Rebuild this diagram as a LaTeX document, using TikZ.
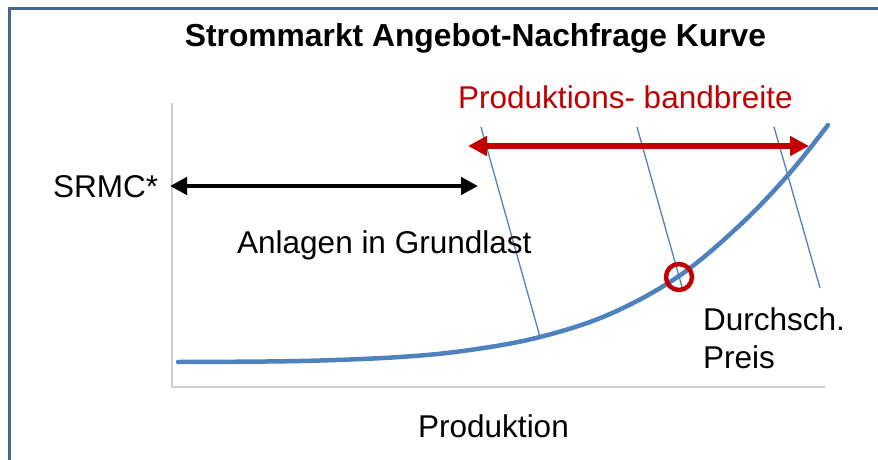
\documentclass[tikz,border=0pt]{standalone}
\usepackage{fontspec}
\setmainfont{Liberation Sans}
\usepackage{tikz}
\usetikzlibrary{arrows.meta}

\definecolor{rahmen}{RGB}{68,104,150}
\definecolor{kurve}{RGB}{79,129,189}
\definecolor{dunkelrot}{RGB}{192,0,0}
\definecolor{achse}{RGB}{205,205,205}

\tikzset{
	pfeil/.style={line width=4.5,{Triangle[length=17pt,width=17pt]}-{Triangle[length=17pt,width=17pt]}},
	bandpfeil/.style={dunkelrot,line width=6,{Triangle[length=19pt,width=19pt]}-{Triangle[length=19pt,width=19pt]}},
	hilfslinie/.style={kurve,line width=1.3},
	beschriftung/.style={inner sep=0,anchor=base west}
}

\begin{document}
\begin{tikzpicture}[x=1pt,y=-1pt,font=\fontsize{31.5}{38}\selectfont]
				\useasboundingbox (0,0) rectangle (878,460);
				\draw[rahmen,line width=3] (9.5,9) rectangle (900,490);

				% Achsen
				\draw[achse,line width=1.5] (172,103) -- (172,387) -- (825,387);

				% schraege Hilfslinien
				\foreach \xa/\xb/\yb in {481/540/337, 637/682/287, 774/820/288}{
					\draw[hilfslinie] (\xa,127) -- (\xb,\yb);
				}

				% Angebotskurve
				\draw[kurve,line width=4.5,line cap=round] plot[smooth,tension=0.6] coordinates
					{(178,362) (300,361) (400,357) (470,350) (540,337) (610,314) (679,276) (740,225) (788,175) (828,125)};

				% Durchschnittspreis
				\draw[dunkelrot,line width=4.5] (679,277) circle (13pt);

				% Pfeile
				\coordinate (grund-a) at (170,186);
				\coordinate (grund-b) at (478,186);
				\coordinate (band-a) at (468,146);
				\coordinate (band-b) at (809,146);
				\draw[pfeil] (grund-a) -- (grund-b);
				\draw[bandpfeil] (band-a) -- (band-b);

				% Texte
				\node[inner sep=0,anchor=base,font=\fontsize{31.8}{38}\selectfont\bfseries] (titel) at (475.5,47) {Strommarkt Angebot-Nachfrage Kurve};
				\node[beschriftung,text=dunkelrot] (band) at (458,108) {Produktions- bandbreite};
				\node[beschriftung] (srmc) at (53,197) {SRMC*};
				\node[beschriftung] (grundlast) at (237,253) {Anlagen in Grundlast};
				\node[inner sep=0,anchor=north west,align=left] (preis) at (703,307) {Durchsch.\\Preis};
				\node[beschriftung] (produktion) at (418,437) {Produktion};
\end{tikzpicture}
\end{document}
